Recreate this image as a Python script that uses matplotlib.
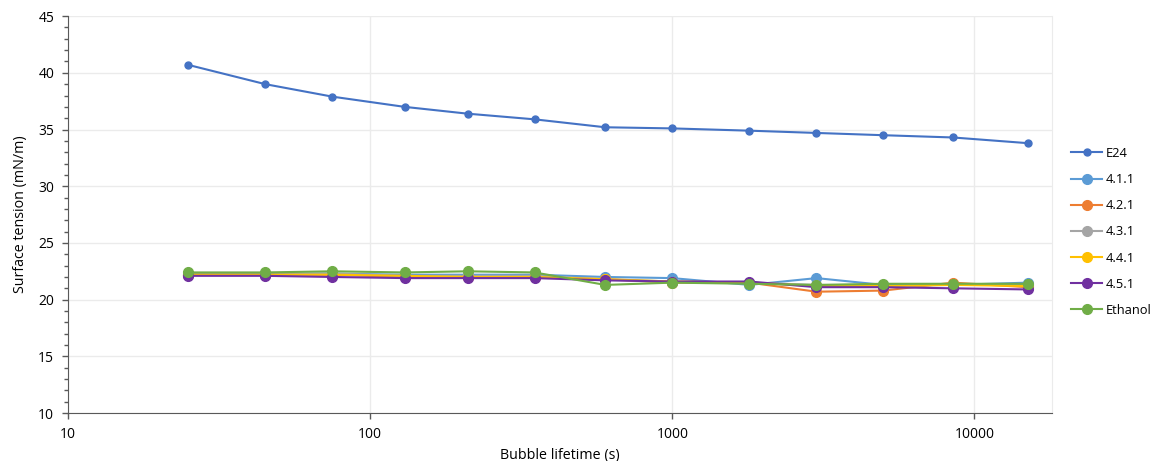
import numpy as np
import matplotlib
matplotlib.use("Agg")
import matplotlib.pyplot as plt
from matplotlib.ticker import MultipleLocator, NullLocator, FixedLocator

plt.rcParams['font.family'] = ['Open Sans', 'DejaVu Sans']

# bubble lifetime (s)
lifetime = [25, 45, 75, 130, 210, 350, 600, 1000, 1800, 3000, 5000, 8500, 15000]

# surface tension (mN/m) per sample
e24 = [40.7, 39.0, 37.9, 37.0, 36.4, 35.9, 35.2, 35.1, 34.9, 34.7, 34.5, 34.3, 33.8]
s411 = [22.3, 22.3, 22.3, 22.2, 22.2, 22.2, 22.0, 21.9, 21.3, 21.9, 21.3, 21.3, 21.5]
s421 = [22.2, 22.2, 22.2, 22.0, 22.0, 22.0, 21.8, 21.5, 21.5, 20.7, 20.8, 21.5, 21.1]
s431 = [22.2, 22.2, 22.3, 22.1, 22.1, 22.1, 21.8, 21.6, 21.5, 21.3, 21.2, 21.3, 21.3]
s441 = [22.2, 22.2, 22.2, 22.1, 22.0, 22.0, 21.8, 21.6, 21.5, 21.2, 21.2, 21.3, 21.2]
s451 = [22.1, 22.1, 22.0, 21.9, 21.9, 21.9, 21.7, 21.6, 21.6, 21.1, 21.1, 21.0, 20.9]
ethanol = [22.4, 22.4, 22.5, 22.4, 22.5, 22.4, 21.3, 21.5, 21.4, 21.3, 21.4, 21.4, 21.4]

labels = ["E24", "4.1.1", "4.2.1", "4.3.1", "4.4.1", "4.5.1", "Ethanol"]
series = [e24, s411, s421, s431, s441, s451, ethanol]
colors = ["#4472C4", "#5B9BD5", "#ED7D31", "#A5A5A5", "#FFC000", "#7030A0", "#70AD47"]

fig = plt.figure(figsize=(11.53, 4.61), dpi=100)
ax = fig.add_axes([0.059, 0.104, 0.853, 0.861])

for i in range(len(series)):
    ms = 5 if i == 0 else 7
    ax.plot(lifetime, series[i], color=colors[i], marker="o", markersize=ms,
            linewidth=1.5, label=labels[i], zorder=3 + i)

ax.set_xscale("log")
ax.set_xlim(10, 18000)
ax.set_ylim(10, 45)
ax.xaxis.set_major_locator(FixedLocator([10, 100, 1000, 10000]))
ax.xaxis.set_minor_locator(NullLocator())
ax.set_xticklabels(["10", "100", "1000", "10000"])
ax.yaxis.set_major_locator(MultipleLocator(5))
ax.yaxis.set_minor_locator(MultipleLocator(1))

ax.grid(True, which="major", color="#EBEBEB", linewidth=1, zorder=0)
ax.set_axisbelow(True)

ax.spines["top"].set_visible(False)
ax.spines["right"].set_color("#EBEBEB")
ax.spines["left"].set_color("#595959")
ax.spines["bottom"].set_color("#595959")

ax.tick_params(axis="both", which="major", labelsize=10, colors="#595959",
               labelcolor="black", length=4, width=1)
ax.tick_params(axis="x", which="major", pad=6)
ax.tick_params(axis="y", which="major", pad=6)
ax.tick_params(axis="y", which="minor", length=3, width=1, colors="#595959")

ax.set_xlabel("Bubble lifetime (s)", fontsize=10.3, labelpad=4)
ax.set_ylabel("Surface tension (mN/m)", fontsize=10.3, labelpad=7)

fig.legend(loc="center left", bbox_to_anchor=(0.929, 0.497), frameon=False,
           fontsize=9.3, handlelength=2.4, handletextpad=0.25, labelspacing=1.02,
           borderpad=0, borderaxespad=0)

fig.savefig("out.png", dpi=100)
